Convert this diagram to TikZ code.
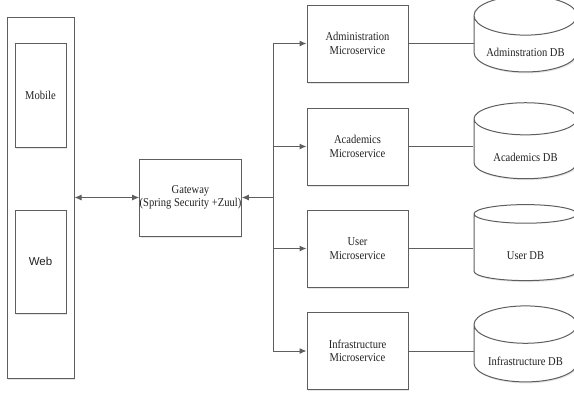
\documentclass[tikz,border=0pt]{standalone}
\usepackage{fontspec}
\setmainfont{Liberation Serif}[FakeStretch=0.88]
\newfontfamily\websans{Liberation Sans}
\usetikzlibrary{arrows.meta,shapes.geometric,shadows}
\definecolor{boxline}{HTML}{5E5E5E}
\definecolor{boxtext}{HTML}{222222}
\newcommand{\dblabel}[1]{\raisebox{-12pt}[0pt][0pt]{#1}}
\begin{document}
\begin{tikzpicture}[x=1pt,y=-1pt,
  box/.style={shape=rectangle,draw=boxline,fill=white,line width=1pt,text=boxtext,
    align=center,font=\fontsize{12}{13.5}\selectfont,inner sep=0pt,
    drop shadow={opacity=0.2,shadow xshift=1pt,shadow yshift=-1.5pt}},
  msbox/.style={box,minimum width=101pt,minimum height=77pt},
  dbcyl/.style={shape=cylinder,shape border rotate=90,aspect=0.5,draw=boxline,fill=white,
    line width=1pt,text=boxtext,font=\fontsize{12}{13.5}\selectfont,inner sep=0pt,
    minimum width=103pt,minimum height=76pt,
    drop shadow={opacity=0.2,shadow xshift=1pt,shadow yshift=-1.5pt}},
  link/.style={draw=boxline,line width=1pt},
  tip/.style={-{Latex[length=7pt,width=6pt]}}]
\useasboundingbox (0,0) rectangle (574,392);

\node[box,minimum width=67pt,minimum height=361pt] (client) at (40.5,197.5) {};
\node[box,minimum width=51pt,minimum height=104pt] (mobile) at (40.5,95) {Mobile};
\node[box,minimum width=51pt,minimum height=103pt,font=\websans\fontsize{11.5}{13}\selectfont] (web) at (40.5,261.5) {Web};
\node[box,minimum width=101pt,minimum height=77pt] (gateway) at (190.5,197.5) {Gateway\\(Spring Security +Zuul)};

\node[msbox] (admin) at (357.5,43.5) {Administration\\Microservice};
\node[msbox] (acad) at (357.5,146.5) {Academics\\Microservice};
\node[msbox] (user) at (357.5,248.5) {User\\Microservice};
\node[msbox] (infra) at (357.5,351) {Infrastructure\\Microservice};

\node[dbcyl] (admindb) at (525.5,44) {\dblabel{Adminstration DB}};
\node[dbcyl] (acaddb) at (525.5,149) {\dblabel{Academics DB}};
\node[dbcyl] (userdb) at (525.5,247.5) {\dblabel{User DB}};
\node[dbcyl] (infradb) at (525.5,353.5) {\dblabel{Infrastructure DB}};

\coordinate (trunk) at (273,197.5);

\draw [link,{Latex[length=7pt,width=6pt]}-{Latex[length=7pt,width=6pt]}] (client.east) -- (gateway.west);
\draw [link,tip] (trunk) -- (gateway.east);
\draw [link] (trunk |- admin) -- (trunk |- infra);
\draw [link,tip] (trunk |- admin) -- (admin.west);
\draw [link,tip] (trunk |- acad) -- (acad.west);
\draw [link,tip] (trunk |- user) -- (user.west);
\draw [link,tip] (trunk |- infra) -- (infra.west);

\draw [link] (admin.east) -- (admin.east -| admindb.west);
\draw [link] (acad.east) -- (acad.east -| acaddb.west);
\draw [link] (user.east) -- (user.east -| userdb.west);
\draw [link] (infra.east) -- (infra.east -| infradb.west);
\end{tikzpicture}
\end{document}
